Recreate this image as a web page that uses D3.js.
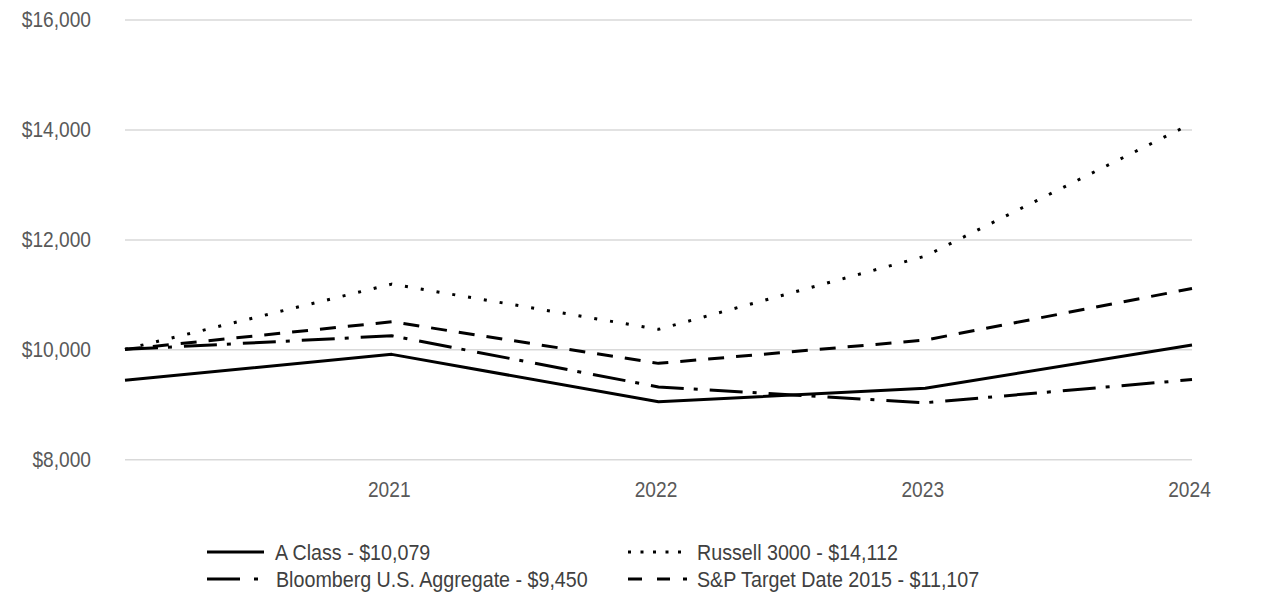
<!DOCTYPE html>
<html>
<head>
<meta charset="utf-8">
<script src="https://cdn.jsdelivr.net/npm/d3@7"></script>
<style>
  html, body { margin: 0; padding: 0; background: #fff; }
  svg { display: block; font-family: "Liberation Sans", Arial, sans-serif; }
</style>
</head>
<body>
<svg id="chart" width="1286" height="614"></svg>
<script>
// ---- data ----
const years = ["2020", "2021", "2022", "2023", "2024"];
const xTickLabels = ["2021", "2022", "2023", "2024"];
const yTickValues = [8000, 10000, 12000, 14000, 16000];

const aClass    = [9440, 9909, 9047, 9291, 10079];
const russell   = [10000, 11187, 10364, 11696, 14112];
const bloomberg = [10000, 10247, 9315, 9029, 9450];
const sp2015    = [10000, 10502, 9745, 10169, 11107];

const seriesNames = [
  "A Class - $10,079",
  "Russell 3000 - $14,112",
  "Bloomberg U.S. Aggregate - $9,450",
  "S&P Target Date 2015 - $11,107"
];

// ---- layout ----
const svg = d3.select("#chart");
const plotLeft = 125, plotRight = 1192, plotTop = 19.5, plotBottom = 459.3;
const sx = 0.87;   // horizontal text condensation (axes)
const lsx = 0.895; // horizontal text condensation (legend)

const x = d3.scalePoint().domain(years).range([plotLeft, plotRight]);
const y = d3.scaleLinear().domain([8000, 16000]).range([plotBottom, plotTop]);

// Y axis with gridlines
const yAxis = svg.append("g")
  .attr("transform", `translate(${plotLeft},0)`)
  .call(d3.axisLeft(y)
    .tickValues(yTickValues)
    .tickFormat(d => "$" + d3.format(",")(d))
    .tickSize(-(plotRight - plotLeft)));
yAxis.select(".domain").remove();
yAxis.selectAll(".tick line").attr("stroke", "#d9d9d9").attr("stroke-width", 1.5);
yAxis.selectAll(".tick text")
  .attr("x", 0).attr("dy", "0.33em")
  .attr("transform", `translate(-34,0) scale(${sx},1)`)
  .attr("fill", "#595959")
  .style("font-size", "22px");

// X axis
const xAxis = svg.append("g")
  .attr("transform", `translate(0,${plotBottom})`)
  .call(d3.axisBottom(x).tickValues(xTickLabels).tickSize(0));
xAxis.select(".domain").remove();
xAxis.selectAll(".tick text")
  .attr("y", 0).attr("dy", 0)
  .attr("transform", `translate(-3,38) scale(${sx},1)`)
  .attr("fill", "#595959")
  .style("font-size", "22px");

// Lines
const series = [
  { name: seriesNames[2], values: bloomberg, dash: "33,10,4,12" },
  { name: seriesNames[3], values: sp2015,    dash: "16,12" },
  { name: seriesNames[1], values: russell,   dash: "3,13" },
  { name: seriesNames[0], values: aClass,    dash: null }
];

const line = d3.line()
  .x((d, i) => x(years[i]))
  .y(d => y(d));

svg.append("g").selectAll("path")
  .data(series)
  .join("path")
  .attr("d", d => line(d.values))
  .attr("fill", "none")
  .attr("stroke", "#000")
  .attr("stroke-width", 3)
  .attr("stroke-linejoin", "round")
  .attr("stroke-dasharray", d => d.dash);

// Legend
const legendItems = [
  { label: seriesNames[0], x0: 207, x1: 264, tx: 275, cy: 552, dash: null },
  { label: seriesNames[1], x0: 628, x1: 681, tx: 697, cy: 552, dash: "3,9.5" },
  { label: seriesNames[2], x0: 207, x1: 258, tx: 276, cy: 579, dash: "33,14,4,20" },
  { label: seriesNames[3], x0: 628, x1: 687, tx: 697, cy: 579, dash: "14,15,13,13,4,100" }
];

const lg = svg.append("g").selectAll("g")
  .data(legendItems)
  .join("g");

lg.append("line")
  .attr("x1", d => d.x0).attr("x2", d => d.x1)
  .attr("y1", d => d.cy).attr("y2", d => d.cy)
  .attr("stroke", "#000")
  .attr("stroke-width", 3)
  .attr("stroke-dasharray", d => d.dash);

lg.append("text")
  .attr("transform", d => `translate(${d.tx},${d.cy + 8}) scale(${lsx},1)`)
  .attr("fill", "#404040")
  .style("font-size", "22px")
  .text(d => d.label);
</script>
</body>
</html>
